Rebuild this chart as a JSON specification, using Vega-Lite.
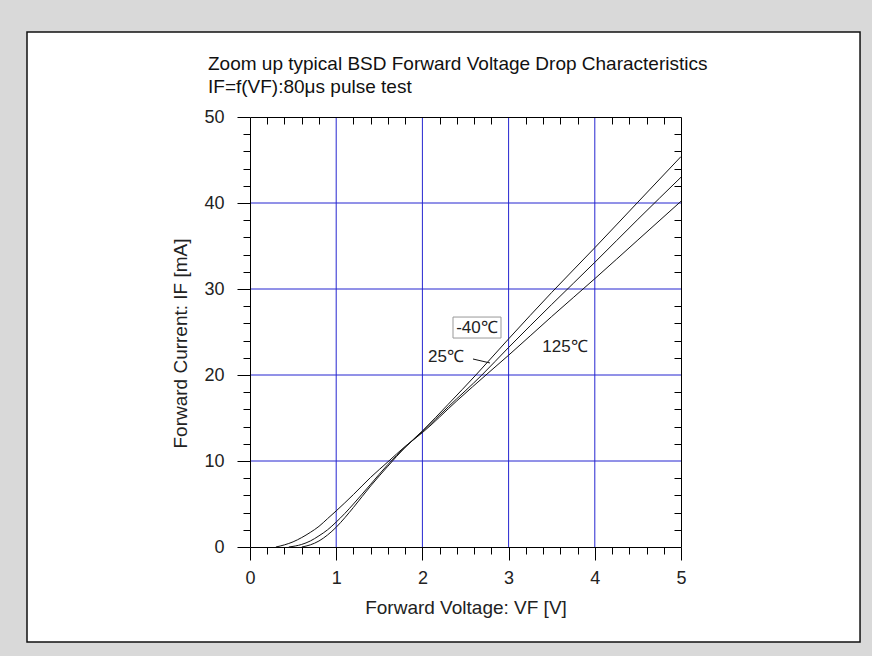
{
  "$schema": "https://vega.github.io/schema/vega-lite/v6.json",
  "width": 431,
  "height": 430,
  "autosize": {"type": "none"},
  "padding": {"left": 250, "top": 117, "right": 191, "bottom": 109},
  "background": "#d9d9d9",
  "config": {
    "view": {"stroke": null},
    "font": "Liberation Sans",
    "axis": {
      "labelFont": "Liberation Sans",
      "titleFont": "Liberation Sans",
      "domainColor": "#000",
      "tickColor": "#000",
      "labelColor": "#222",
      "titleColor": "#222",
      "labelFontSize": 18,
      "titleFontSize": 19,
      "titleFontWeight": "normal",
      "grid": false,
      "tickWidth": 1,
      "domainWidth": 1,
      "labelFlush": false
    }
  },
  "title": {
    "text": ["Zoom up typical BSD Forward Voltage Drop Characteristics", "IF=f(VF):80μs pulse test"],
    "anchor": "start",
    "frame": "group",
    "dx": -42,
    "fontSize": 19,
    "fontWeight": "normal",
    "font": "Liberation Sans",
    "color": "#111",
    "lineHeight": 23,
    "offset": -66
  },
  "resolve": {"axis": {"x": "independent", "y": "independent"}},
  "layer": [
    {
      "data": {"values": [{"fx0": -2.587, "fx1": 7.077, "fy0": -11.05, "fy1": 59.88}]},
      "mark": {"type": "rect", "fill": "white", "stroke": "#111", "strokeWidth": 1.5},
      "encoding": {
        "x": {"field": "fx0", "type": "quantitative", "scale": {"domain": [0, 5], "nice": false, "zero": false},
          "axis": {"orient": "bottom", "zindex": 1, "values": [0, 1, 2, 3, 4, 5], "tickSize": 13, "labelPadding": 9, "title": "Forward Voltage: VF [V]", "titlePadding": 11, "format": "d"}},
        "x2": {"field": "fx1"},
        "y": {"field": "fy0", "type": "quantitative", "scale": {"domain": [0, 50], "nice": false, "zero": false},
          "axis": {"orient": "left", "zindex": 1, "values": [0, 10, 20, 30, 40, 50], "tickSize": 13, "labelPadding": 13, "title": "Forward Current: IF [mA]", "titlePadding": 13, "titleY": 226, "format": "d"}},
        "y2": {"field": "fy1"}
      }
    },
    {
      "data": {"values": [{"gx": 1}, {"gx": 2}, {"gx": 3}, {"gx": 4}]},
      "mark": {"type": "rule", "color": "#2525d0", "strokeWidth": 1},
      "encoding": {
        "x": {"field": "gx", "type": "quantitative",
          "axis": {"orient": "bottom", "zindex": 1, "values": [0.2, 0.4, 0.6, 0.8, 1.2, 1.4, 1.6, 1.8, 2.2, 2.4, 2.6, 2.8, 3.2, 3.4, 3.6, 3.8, 4.2, 4.4, 4.6, 4.8], "tickSize": 7, "labels": false, "domain": false, "title": null}}
      }
    },
    {
      "data": {"values": [{"gy": 10}, {"gy": 20}, {"gy": 30}, {"gy": 40}]},
      "mark": {"type": "rule", "color": "#2525d0", "strokeWidth": 1},
      "encoding": {
        "y": {"field": "gy", "type": "quantitative",
          "axis": {"orient": "left", "zindex": 1, "values": [2, 4, 6, 8, 12, 14, 16, 18, 22, 24, 26, 28, 32, 34, 36, 38, 42, 44, 46, 48], "tickSize": 7, "labels": false, "domain": false, "title": null}}
      }
    },
    {
      "data": {"values": [
        {"t": "-40", "v": 0.6, "i": 0}, {"t": "-40", "v": 0.7, "i": 0.25}, {"t": "-40", "v": 0.8, "i": 0.7}, {"t": "-40", "v": 0.9, "i": 1.4}, {"t": "-40", "v": 1.0, "i": 2.3}, {"t": "-40", "v": 1.1, "i": 3.4}, {"t": "-40", "v": 1.2, "i": 4.6}, {"t": "-40", "v": 1.4, "i": 7.1}, {"t": "-40", "v": 1.6, "i": 9.4}, {"t": "-40", "v": 1.8, "i": 11.6}, {"t": "-40", "v": 2.0, "i": 13.5}, {"t": "-40", "v": 2.3, "i": 16.6}, {"t": "-40", "v": 2.62, "i": 20}, {"t": "-40", "v": 3.0, "i": 24.2}, {"t": "-40", "v": 3.5, "i": 29.6}, {"t": "-40", "v": 4.0, "i": 34.8}, {"t": "-40", "v": 4.5, "i": 40.1}, {"t": "-40", "v": 5.0, "i": 45.4},
        {"t": "25", "v": 0.45, "i": 0}, {"t": "25", "v": 0.6, "i": 0.3}, {"t": "25", "v": 0.7, "i": 0.7}, {"t": "25", "v": 0.8, "i": 1.3}, {"t": "25", "v": 0.9, "i": 2.0}, {"t": "25", "v": 1.0, "i": 2.9}, {"t": "25", "v": 1.1, "i": 3.9}, {"t": "25", "v": 1.2, "i": 5.0}, {"t": "25", "v": 1.4, "i": 7.3}, {"t": "25", "v": 1.6, "i": 9.6}, {"t": "25", "v": 1.8, "i": 11.6}, {"t": "25", "v": 2.0, "i": 13.4}, {"t": "25", "v": 2.3, "i": 16.3}, {"t": "25", "v": 2.69, "i": 20}, {"t": "25", "v": 3.0, "i": 23.2}, {"t": "25", "v": 3.5, "i": 28.2}, {"t": "25", "v": 4.0, "i": 33.1}, {"t": "25", "v": 4.5, "i": 38.1}, {"t": "25", "v": 5.0, "i": 43.0},
        {"t": "125", "v": 0.3, "i": 0}, {"t": "125", "v": 0.4, "i": 0.25}, {"t": "125", "v": 0.5, "i": 0.6}, {"t": "125", "v": 0.6, "i": 1.1}, {"t": "125", "v": 0.7, "i": 1.7}, {"t": "125", "v": 0.8, "i": 2.4}, {"t": "125", "v": 0.9, "i": 3.3}, {"t": "125", "v": 1.0, "i": 4.2}, {"t": "125", "v": 1.2, "i": 6.1}, {"t": "125", "v": 1.4, "i": 8.1}, {"t": "125", "v": 1.6, "i": 9.9}, {"t": "125", "v": 1.8, "i": 11.7}, {"t": "125", "v": 2.0, "i": 13.3}, {"t": "125", "v": 2.4, "i": 17.0}, {"t": "125", "v": 2.76, "i": 20.2}, {"t": "125", "v": 3.0, "i": 22.3}, {"t": "125", "v": 3.5, "i": 26.8}, {"t": "125", "v": 4.0, "i": 31.2}, {"t": "125", "v": 4.5, "i": 35.7}, {"t": "125", "v": 5.0, "i": 40.2}
      ]},
      "mark": {"type": "line", "color": "#111", "strokeWidth": 1, "interpolate": "monotone"},
      "encoding": {
        "detail": {"field": "t"},
        "x": {"field": "v", "type": "quantitative",
          "axis": {"orient": "top", "zindex": 1, "values": [0.2, 0.4, 0.6, 0.8, 1.2, 1.4, 1.6, 1.8, 2.2, 2.4, 2.6, 2.8, 3.2, 3.4, 3.6, 3.8, 4.2, 4.4, 4.6, 4.8], "tickSize": -7, "labels": false, "domain": true, "title": null}},
        "y": {"field": "i", "type": "quantitative",
          "axis": {"orient": "right", "zindex": 1, "values": [2, 4, 6, 8, 12, 14, 16, 18, 22, 24, 26, 28, 32, 34, 36, 38, 42, 44, 46, 48], "tickSize": -7, "labels": false, "domain": true, "title": null}}
      }
    },
    {
      "data": {"values": [{"bx0": 2.355, "bx1": 2.912, "by0": 24.3, "by1": 26.74}]},
      "mark": {"type": "rect", "fill": "white", "stroke": "#999", "strokeWidth": 1},
      "encoding": {
        "x": {"field": "bx0", "type": "quantitative", "axis": null},
        "x2": {"field": "bx1"},
        "y": {"field": "by0", "type": "quantitative", "axis": null},
        "y2": {"field": "by1"}
      }
    },
    {
      "data": {"values": [{"ax0": 2.587, "ay0": 21.86, "ax1": 2.784, "ay1": 21.4}]},
      "mark": {"type": "rule", "color": "#111", "strokeWidth": 1},
      "encoding": {
        "x": {"field": "ax0", "type": "quantitative", "axis": null},
        "y": {"field": "ay0", "type": "quantitative", "axis": null},
        "x2": {"field": "ax1"},
        "y2": {"field": "ay1"}
      }
    },
    {
      "data": {"values": [
        {"lx": 2.633, "ly": 25.5, "label": "-40℃"},
        {"lx": 2.274, "ly": 22.1, "label": "25℃"},
        {"lx": 3.654, "ly": 23.26, "label": "125℃"}
      ]},
      "mark": {"type": "text", "fontSize": 17, "color": "#222", "font": "Liberation Sans", "align": "center", "baseline": "middle"},
      "encoding": {
        "x": {"field": "lx", "type": "quantitative", "axis": null},
        "y": {"field": "ly", "type": "quantitative", "axis": null},
        "text": {"field": "label"}
      }
    }
  ]
}
